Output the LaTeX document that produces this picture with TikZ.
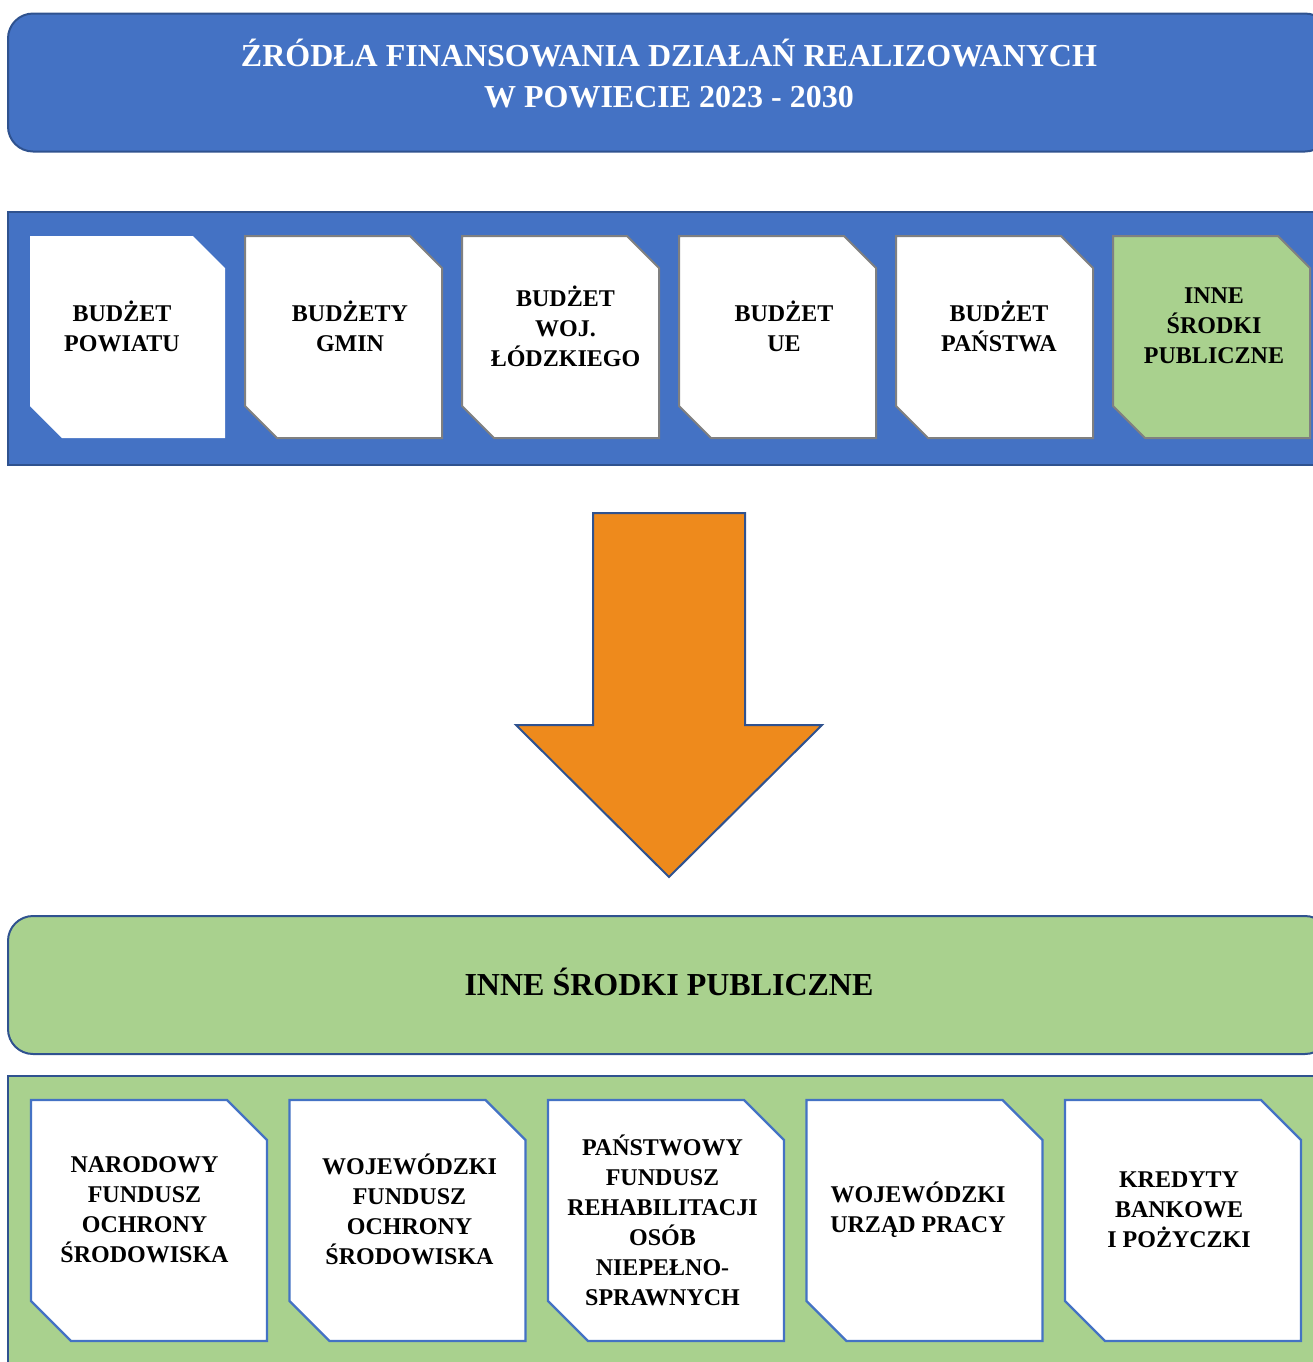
\documentclass[tikz,border=0pt]{standalone}
\usepackage{fontspec}
\setmainfont{Liberation Serif}
\definecolor{bannerblue}{HTML}{4472C4}
\definecolor{rimblue}{HTML}{2F528F}
\definecolor{fundgreen}{HTML}{A9D18E}
\definecolor{arroworange}{HTML}{EE8A1C}
\definecolor{rimgray}{HTML}{808080}
\usetikzlibrary{positioning}

\begin{document}
\begin{tikzpicture}[
    x=0.5pt, y=-0.5pt,
    node distance=10pt,
    banner/.style={rectangle, rounded corners=12.5pt, draw=rimblue,
                   line width=1pt, minimum width=661pt, minimum height=69pt},
    bar/.style={rectangle, draw=rimblue, line width=1pt,
                minimum width=661pt},
    srcbox/.style={rectangle, outer sep=0pt, inner sep=0pt,
                   minimum width=98.5pt, minimum height=101pt},
    fundbox/.style={rectangle, outer sep=0pt, inner sep=0pt,
                    minimum width=118pt, minimum height=120.5pt},
    snip/.style={line width=1pt},
    boxtext/.style={align=center, font=\fontsize{12}{15}\selectfont\bfseries},
    headtext/.style={align=center, font=\fontsize{16}{20.5}\selectfont\bfseries},
    pfeil/.style={draw=rimblue, line width=1pt, fill=arroworange}
  ]
  \useasboundingbox (0,0) rectangle (1313,1362);
  \clip (0,0) rectangle (1313,1362);

  % Kopf
  \node[banner, fill=bannerblue] (title) at (669,82.5) {};
  \node[headtext, text=white] (titletxt) at ([yshift=4.5pt]title.center)
    {ŹRÓDŁA FINANSOWANIA DZIAŁAŃ REALIZOWANYCH\\ W POWIECIE 2023 - 2030};

  % Quellen
  \node[bar, fill=bannerblue, minimum height=126.5pt] (srcbar) at (669,338.5) {};
  \node[srcbox, minimum width=97.5pt] (pow) at (127.5,337) {};
  \node[srcbox, right=of pow] (gmin) {};
  \node[srcbox, right=of gmin] (woj) {};
  \node[srcbox, right=of woj] (ue) {};
  \node[srcbox, right=of ue] (pan) {};
  \node[srcbox, right=of pan] (inne) {};
  \foreach \n/\fc/\dc in {pow/white/none, gmin/white/rimgray, woj/white/rimgray,
                          ue/white/rimgray, pan/white/rimgray, inne/fundgreen/rimgray}
    \draw[snip, fill=\fc, draw=\dc] (\n.north west) -- ([xshift=-16pt]\n.north east)
      -- ([yshift=-16pt]\n.north east) -- (\n.south east)
      -- ([xshift=16pt]\n.south west) -- ([yshift=16pt]\n.south west) -- cycle;
  \node[boxtext] (powtxt) at ([xshift=-2.75pt, yshift=5.5pt]pow.center)
    {BUDŻET\\ POWIATU};
  \node[boxtext] (gmintxt) at ([xshift=3.25pt, yshift=5.5pt]gmin.center)
    {BUDŻETY\\ GMIN};
  \node[boxtext] (wojtxt) at ([xshift=2.5pt, yshift=5.5pt]woj.center)
    {BUDŻET\\ WOJ.\\ ŁÓDZKIEGO};
  \node[boxtext] (uetxt) at ([xshift=3.25pt, yshift=5.5pt]ue.center)
    {BUDŻET\\ UE};
  \node[boxtext] (pantxt) at ([xshift=2.25pt, yshift=5.5pt]pan.center)
    {BUDŻET\\ PAŃSTWA};
  \node[boxtext] (innetxt) at ([xshift=1.25pt, yshift=5.5pt]inne.center)
    {INNE\\ ŚRODKI\\ PUBLICZNE};

  % Pfeil
  \draw[pfeil] (593,513) -- (745,513) -- (745,725) -- (822,725)
    -- (669,877) -- (516,725) -- (593,725) -- cycle;

  % Inne srodki
  \node[banner, fill=fundgreen] (other) at (669,985) {};
  \node[headtext] (othertxt) at ([yshift=1.5pt]other.center) {INNE ŚRODKI PUBLICZNE};

  \node[bar, fill=fundgreen, minimum height=157pt] (fundbar) at (669,1233) {};
  \node[fundbox] (nfos) at (149,1220.5) {};
  \node[fundbox, right=11.25pt of nfos] (wfos) {};
  \node[fundbox, right=11.25pt of wfos] (pfron) {};
  \node[fundbox, right=11.25pt of pfron] (wup) {};
  \node[fundbox, right=11.25pt of wup] (kred) {};
  \foreach \n in {nfos, wfos, pfron, wup, kred}
    \draw[snip, line width=1.2pt, fill=white, draw=bannerblue] (\n.north west)
      -- ([xshift=-20pt]\n.north east) -- ([yshift=-20pt]\n.north east)
      -- (\n.south east) -- ([xshift=20pt]\n.south west)
      -- ([yshift=20pt]\n.south west) -- cycle;
  \node[boxtext] (nfostxt) at ([xshift=-2.25pt, yshift=5.5pt]nfos.center)
    {NARODOWY\\ FUNDUSZ\\ OCHRONY\\ ŚRODOWISKA};
  \node[boxtext] (wfostxt) at ([xshift=1pt, yshift=5.5pt]wfos.center)
    {WOJEWÓDZKI\\ FUNDUSZ\\ OCHRONY\\ ŚRODOWISKA};
  \node[boxtext] (pfrontxt) at ([xshift=-1.75pt]pfron.center)
    {PAŃSTWOWY\\ FUNDUSZ\\ REHABILITACJI\\ OSÓB\\ NIEPEŁNO-\\ SPRAWNYCH};
  \node[boxtext] (wuptxt) at ([xshift=-3.25pt, yshift=5.5pt]wup.center)
    {WOJEWÓDZKI\\ URZĄD PRACY};
  \node[boxtext] (kredtxt) at ([xshift=-2pt, yshift=5.5pt]kred.center)
    {KREDYTY\\ BANKOWE\\ I POŻYCZKI};
\end{tikzpicture}
\end{document}
